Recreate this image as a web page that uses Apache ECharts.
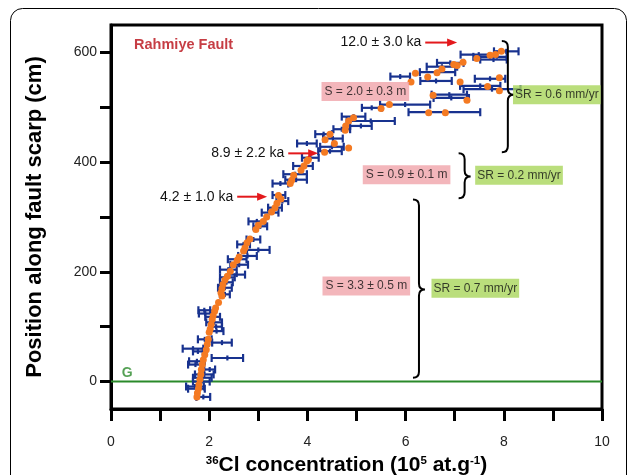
<!DOCTYPE html>
<html>
<head>
<meta charset="utf-8">
<script src="https://cdn.jsdelivr.net/npm/echarts@6/dist/echarts.min.js"></script>
<style>html,body{margin:0;padding:0;background:#fff;}#c{width:629px;height:475px;}</style>
</head>
<body>
<div id="c"></div>
<script>
// ---- axis ticks ----
const xTicks = [0,1,2,3,4,5,6,7,8,9,10];
const xTickLabels = [0,2,4,6,8,10];
const yTicks = [0,100,200,300,400,500,600];
const yTickLabels = [0,200,400,600];

// ---- measured 36Cl (x, height, half error) ----
const measured = [
[8.05,602,0.25],[7.49,596,0.37],[7.72,592,0.34],[7.79,587,0.27],[6.91,581,0.27],[6.74,574,0.31],
[6.65,564,0.36],[5.89,556,0.20],[7.72,552,0.31],[6.62,548,0.32],[7.52,539,0.41],[7.76,533,0.58],
[6.89,523,0.36],[6.93,517,0.36],[5.99,505,0.51],[5.31,499,0.20],[6.79,491,0.73],[4.94,483,0.24],
[5.29,475,0.49],[5.09,466,0.22],[4.70,460,0.17],[4.33,451,0.17],[4.52,443,0.20],[3.99,434,0.20],
[4.50,428,0.24],[4.46,420,0.24],[4.06,408,0.17],[3.91,393,0.20],[3.75,378,0.24],[3.77,368,0.22],
[3.45,361,0.16],[3.42,340,0.13],[3.49,329,0.12],[3.34,317,0.14],[3.24,308,0.17],[2.97,292,0.17],
[3.04,283,0.14],[2.90,259,0.14],[2.70,250,0.13],[3.00,240,0.23],[2.78,229,0.19],[2.57,223,0.19],
[2.61,213,0.18],[2.39,204,0.17],[2.56,195,0.17],[2.37,190,0.15],[2.35,181,0.13],[2.32,171,0.14],
[2.32,159,0.10],[1.90,130,0.12],[1.92,124,0.13],[2.07,118,0.15],[2.10,108,0.16],[2.14,100,0.12],
[2.15,92,0.14],[1.91,77,0.14],[2.26,71,0.20],[1.67,60,0.21],[1.77,55,0.10],[2.37,43,0.32],
[1.75,37,0.16],[1.72,31,0.15],[2.01,22,0.11],[1.90,13,0.19],[1.86,7,0.19],[1.84,0,0.17],
[1.71,-9,0.18],[1.74,-13,0.17],[1.88,-28,0.14]
];

// ---- modelled concentrations (x, height) ----
const modelled = [
[7.95,602],[7.83,596],[7.72,595],[7.45,589],[7.17,582],[6.98,578],[7.05,576],[6.74,570],[6.64,563],
[6.20,562],[6.45,555],[7.91,554],[6.11,546],[7.11,546],[7.67,538],[7.91,530],[6.56,522],[7.25,513],
[5.67,505],[5.50,498],[6.47,490],[6.81,490],[4.94,481],[4.84,475],[4.78,466],[4.77,458],[4.46,451],
[4.36,441],[4.55,434],[4.84,426],[4.35,418],[4.02,405],[3.99,402],[3.93,393],[3.87,385],[3.72,376],
[3.68,367],[3.65,361],[3.41,339],[3.46,333],[3.38,325],[3.34,317],[3.27,309],[3.17,300],[3.10,292],
[3.00,285],[2.95,277],[2.83,260],[2.77,253],[2.73,244],[2.70,238],[2.61,227],[2.57,221],[2.49,213],
[2.43,201],[2.37,192],[2.32,185],[2.28,177],[2.26,169],[2.24,162],[2.26,156],[2.19,144],[2.13,134],
[2.11,128],[2.08,120],[2.06,113],[2.04,104],[2.02,96],[2.00,90],[1.98,77],[1.96,68],[1.94,58],
[1.91,49],[1.88,40],[1.86,31],[1.84,22],[1.83,13],[1.81,4],[1.79,-6],[1.78,-13],[1.76,-21],[1.75,-28]
];

// ---- annotations ----
const ageLabels = ['12.0 \u00b1 3.0 ka','8.9 \u00b1 2.2 ka','4.2 \u00b1 1.0 ka'];
const arrowStartX = [6.40, 3.61, 2.57];
const arrowEndX = [7.05, 4.22, 3.18];
const arrowY = [618, 416, 337];

const slipLabels = ['S = 2.0 \u00b1 0.3 m','S = 0.9 \u00b1 0.1 m','S = 3.3 \u00b1 0.5 m'];
const slipX = [5.18, 6.02, 5.20];
const slipY = [529, 377, 174];

const rateLabels = ['SR = 0.6 mm/yr','SR = 0.2 mm/yr','SR = 0.7 mm/yr'];
const rateX = [9.08, 8.31, 7.42];
const rateY = [523, 376, 170];

// brackets: x, top, bottom, tip
const brackets = [[7.96,621,418,523],[7.08,416,334,374],[6.15,332,7,168]];

const groundLevel = 0;
const faultName = 'Rahmiye Fault';
const faultPos = [0.47, 613];
const groundLabelPos = [0.22, 16];

const FF = '"Liberation Sans", Arial, sans-serif';
const chart = echarts.init(document.getElementById('c'));

const option = {
  backgroundColor: '#fff',
  animation: false,
  graphic: [{
    type: 'rect', z: -10,
    shape: {x: 10.5, y: 8.5, width: 616, height: 540, r: 12},
    style: {fill: 'none', stroke: '#000', lineWidth: 1}
  }],
  grid: {left: 111, right: 27, top: 25, bottom: 66, show: true, borderColor: '#000', borderWidth: 3,
    backgroundColor: 'transparent', outerBoundsMode: 'none', containLabel: false},
  xAxis: {
    type: 'value', min: 0, max: 10, interval: 1,
    axisLine: {show: true, onZero: false, lineStyle: {color: '#000', width: 3}},
    axisTick: {show: true, length: 12, lineStyle: {color: '#000', width: 3}, customValues: xTicks},
    axisLabel: {customValues: xTickLabels, margin: 26, fontSize: 14, color: '#222', fontFamily: FF},
    splitLine: {show: false},
    name: '{sup|36}Cl concentration (10{sup|5} at.g{sup|-1})',
    nameLocation: 'middle', nameGap: 46,
    nameTextStyle: {fontSize: 21, fontWeight: 'bold', color: '#000', fontFamily: FF, padding: [0, 20, 0, 0],
      rich: {sup: {fontSize: 11.5, fontWeight: 'bold', verticalAlign: 'top', color: '#000', fontFamily: FF}}}
  },
  yAxis: {
    type: 'value', min: -50, max: 650,
    axisLine: {show: true, onZero: false, lineStyle: {color: '#000', width: 3}},
    axisTick: {show: true, length: 11, lineStyle: {color: '#000', width: 3}, customValues: yTicks},
    axisLabel: {customValues: yTickLabels, margin: 14, fontSize: 14, color: '#222', fontFamily: FF},
    splitLine: {show: false},
    name: 'Position along fault scarp (cm)',
    nameLocation: 'middle', nameGap: 65,
    nameTextStyle: {fontSize: 22, fontWeight: 'bold', color: '#000', fontFamily: FF}
  },
  series: [
    {
      type: 'line', data: [[0, groundLevel],[10, groundLevel]], symbol: 'none',
      lineStyle: {color: '#2a8a2a', width: 2}, z: 1, silent: true
    },
    {
      type: 'custom', clip: false, z: 3,
      data: measured,
      encode: {x: 0, y: 1},
      renderItem: function (params, api) {
        const x = api.value(0), y = api.value(1), e = api.value(2);
        const a = api.coord([x - e, y]), b = api.coord([x + e, y]), c = api.coord([x, y]);
        const st = {stroke: '#18328f', lineWidth: 2.2};
        return {type: 'group', children: [
          {type: 'line', shape: {x1: a[0], y1: a[1], x2: b[0], y2: b[1]}, style: st},
          {type: 'line', shape: {x1: a[0], y1: a[1] - 4, x2: a[0], y2: a[1] + 4}, style: st},
          {type: 'line', shape: {x1: b[0], y1: b[1] - 4, x2: b[0], y2: b[1] + 4}, style: st},
          {type: 'line', shape: {x1: c[0], y1: c[1] - 2.5, x2: c[0], y2: c[1] + 2.5}, style: st}
        ]};
      }
    },
    {
      type: 'scatter', data: modelled, symbol: 'circle', symbolSize: 7, z: 4,
      itemStyle: {color: '#f47a22', opacity: 1}
    },
    {
      type: 'custom', clip: false, z: 5,
      data: brackets,
      encode: {x: 0, y: 1},
      renderItem: function (params, api) {
        const x = api.value(0);
        const t = api.coord([x, api.value(1)]), b = api.coord([x, api.value(2)]);
        const tip = api.coord([x, api.value(3)])[1];
        const x0 = t[0], w = 6, yt = t[1], yb = b[1];
        const d = 'M' + x0 + ' ' + yt + ' Q' + (x0 + w) + ' ' + yt + ' ' + (x0 + w) + ' ' + (yt + w) +
          ' L' + (x0 + w) + ' ' + (tip - w) + ' Q' + (x0 + w) + ' ' + tip + ' ' + (x0 + 2 * w) + ' ' + tip +
          ' Q' + (x0 + w) + ' ' + tip + ' ' + (x0 + w) + ' ' + (tip + w) +
          ' L' + (x0 + w) + ' ' + (yb - w) + ' Q' + (x0 + w) + ' ' + yb + ' ' + x0 + ' ' + yb;
        return {type: 'path', shape: {pathData: d}, style: {fill: 'none', stroke: '#000', lineWidth: 2}};
      }
    },
    {
      type: 'custom', clip: false, z: 6,
      data: ageLabels.map((t, i) => [arrowStartX[i], arrowY[i], arrowEndX[i], i]),
      encode: {x: 0, y: 1},
      renderItem: function (params, api) {
        const p1 = api.coord([api.value(0), api.value(1)]);
        const p2 = api.coord([api.value(2), api.value(1)]);
        const i = api.value(3);
        const red = '#e3191c';
        return {type: 'group', children: [
          {type: 'line', shape: {x1: p1[0], y1: p1[1], x2: p2[0] - 8, y2: p2[1]}, style: {stroke: red, lineWidth: 2}},
          {type: 'polygon', shape: {points: [[p2[0], p2[1]], [p2[0] - 10, p2[1] - 4], [p2[0] - 10, p2[1] + 4]]}, style: {fill: red}},
          {type: 'text', style: {text: ageLabels[i], x: p1[0] - 4, y: p1[1], align: 'right', verticalAlign: 'middle',
            fontSize: 14, fontFamily: FF, fill: '#111'}}
        ]};
      }
    },
    {
      type: 'scatter', symbolSize: 0, z: 7, silent: true,
      data: slipLabels.map((t, i) => ({value: [slipX[i], slipY[i]], label: {formatter: t}})),
      label: {show: true, position: 'inside', fontSize: 12, fontFamily: FF, color: '#111',
        backgroundColor: '#f0a4aa', padding: [4, 3, 3, 3]}
    },
    {
      type: 'scatter', symbolSize: 0, z: 7, silent: true,
      data: rateLabels.map((t, i) => ({value: [rateX[i], rateY[i]], label: {formatter: t}})),
      label: {show: true, position: 'inside', fontSize: 12, fontFamily: FF, color: '#111',
        backgroundColor: '#a9d65b', padding: [4, 2, 3, 2]}
    },
    {
      type: 'scatter', symbolSize: 0, z: 7, silent: true,
      data: [
        {value: faultPos, label: {formatter: faultName, color: '#b80d15', fontSize: 14.5}},
        {value: groundLabelPos, label: {formatter: 'G', color: '#2a8a2a', fontSize: 14}}
      ],
      label: {show: true, position: 'right', distance: 0, fontWeight: 'bold', fontFamily: FF}
    }
  ]
};
chart.setOption(option);
</script>
</body>
</html>
